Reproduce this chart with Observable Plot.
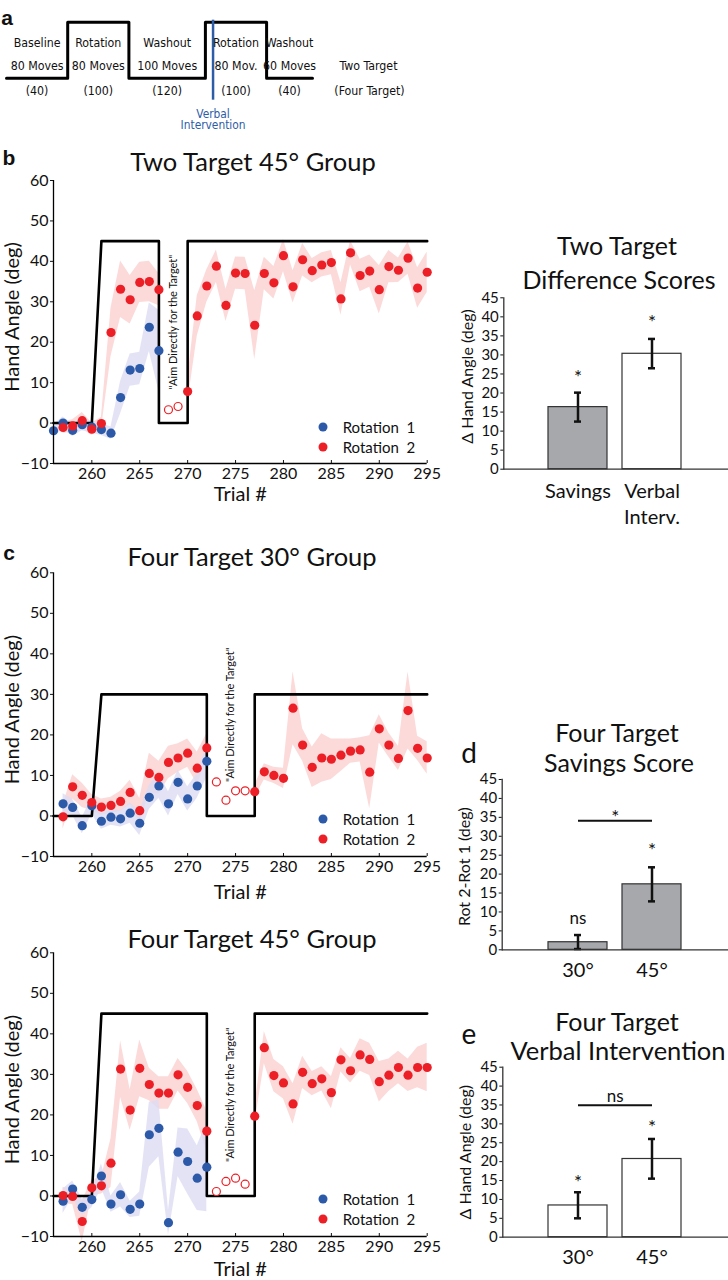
<!DOCTYPE html>
<html><head><meta charset="utf-8">
<script src="https://cdn.jsdelivr.net/npm/d3@7"></script>
<script src="https://cdn.jsdelivr.net/npm/@observablehq/plot@0.6"></script>
<style>
body{margin:0;background:#fff;}
#page{position:relative;width:728px;height:1280px;overflow:hidden;font-family:Lato,"Open Sans",sans-serif;color:#111;background:#fff;}
.slot{position:absolute;}
.c{position:absolute;transform:translate(-50%,-50%);white-space:nowrap;line-height:1;}
.letter{font-family:"Liberation Sans",Arial,sans-serif;font-weight:bold;font-size:21px;}
.leg{position:absolute;font-size:15px;white-space:pre;line-height:1;transform:translateY(-50%);}
.dotc{position:absolute;width:9px;height:9px;border-radius:50%;transform:translate(-50%,-50%);}
</style></head><body><div id="page"></div>
<script>
// ---------- Panel a: schedule ----------
const phaseNames = ["Baseline", "Rotation", "Washout", "Rotation", "Washout"];
const phaseMovesTwo = [80, 80, 100, 80, 60];
const phaseLabelsTwo = ["80 Moves", "80 Moves", "100 Moves", "80 Mov.", "60 Moves"];
const phaseLabelsFour = ["(40)", "(100)", "(120)", "(100)", "(40)"];
const phaseRotated = [0, 1, 0, 1, 0];
const verbalMove = 270;

// ---------- Panel b: Two Target 45° ----------
const b_rot1Start = 256;
const b_rot1 = [-1.9, 0, -1.8, -0.4, -1, -1.6, -2.5, 6.3, 13.1, 13.5, 23.7, 17.9];
const b_rot1Se = [1.5, 1.5, 1.5, 1.5, 1.5, 1.5, 1.5, 4, 4, 4, 6, 10];
const b_rot2aStart = 257;
const b_rot2a = [-1.1, -0.7, 0.6, -1.5, -0.1, 22.4, 33.1, 30.5, 34.8, 35, 33];
const b_rot2aSe = [1.5, 1.5, 2, 1.5, 1.5, 6, 7, 6, 5, 5, 4];
const b_openStart = 268;
const b_open = [3.3, 4.1];
const b_rot2bStart = 270;
const b_rot2b = [7.8, 26.5, 33.9, 38.8, 29.1, 37.1, 37, 24.2, 37, 34.7, 41.4, 33.7, 40.4, 37.7, 39.1, 39.7, 30.7, 42.1, 36.5, 37.6, 33, 38.7, 37.8, 40.8, 33.4, 37.3];
const b_rot2bSe = [3, 5, 4, 4, 4, 4, 4, 8.5, 4, 4, 4, 4, 4, 3, 3, 3, 4, 3, 4, 4, 6, 4, 3, 4, 5, 5];
const b_schedX = [256, 260, 261, 267, 267, 270, 270, 295];
const b_schedY = [0, 0, 45, 45, 0, 0, 45, 45];

// ---------- Panel c: Four Target 30° ----------
const c_rot1Start = 257;
const c_rot1 = [3.0, 2.1, -2.4, 2.5, -1.3, -0.3, -0.7, 0.7, -1.8, 4.6, 7.4, 3.0, 8.3, 4.2, 7.4, 13.5];
const c_rot1Se = [2.5, 2, 2, 2, 2, 2, 2, 2.5, 3, 3, 3, 3, 3, 3, 3, 4];
const c_rot2aStart = 257;
const c_rot2a = [-0.2, 7.2, 5.1, 3.3, 2.2, 2.6, 3.6, 5.8, 1.3, 10.5, 9.5, 13.2, 14.3, 15.5, 11.8, 16.8];
const c_rot2aSe = [3, 3, 3, 2, 2, 2, 2.5, 3, 3, 5, 4, 4, 3.5, 3.5, 4, 3.5];
const c_openStart = 273;
const c_open = [8.4, 3.9, 6.2, 6.2];
const c_rot2bStart = 277;
const c_rot2b = [6.0, 10.9, 10, 9.3, 26.6, 17.5, 12.0, 14.3, 14, 15, 16, 16.3, 10.8, 21.5, 17.5, 14.2, 26, 16.7, 14.3];
const c_rot2bSe = [1.5, 2, 2, 2.5, 9, 4, 5, 6, 5, 4, 3, 3, 9, 3.5, 3, 3, 9.5, 3, 4];
const c_schedX = [256, 260, 261, 272, 272, 277, 277, 295];
const c_schedY = [0, 0, 30, 30, 0, 0, 30, 30];

// ---------- Panel c (lower): Four Target 45° ----------
const f_rot1Start = 257;
const f_rot1 = [-1.3, 1.7, -2.8, -0.9, 4.9, -2.0, 0.3, -3.3, -2.0, 15.1, 16.7, -6.6, 10.8, 8.5, 4.4, 7.1];
const f_rot1Se = [3, 2, 2, 2, 3, 2, 3, 2, 3, 8, 7, 3, 6, 8, 8, 11];
const f_rot2aStart = 257;
const f_rot2a = [0.1, -0.1, -6.3, 2.0, 2.5, 8.1, 31.3, 21.2, 31.5, 27.5, 25.4, 25.4, 29.9, 26.8, 22.3, 16];
const f_rot2aSe = [2, 2, 5, 2, 2, 6, 7, 5, 7, 4, 4, 4, 4, 4, 4, 5];
const f_openStart = 273;
const f_open = [1.1, 3.6, 4.4, 2.9];
const f_rot2bStart = 277;
const f_rot2b = [19.7, 36.6, 29.7, 27.9, 22.7, 30.5, 27.7, 28.9, 25.5, 33.6, 30.9, 34.8, 33.7, 28.2, 29.8, 31.7, 29.8, 31.7, 31.7];
const f_rot2bSe = [2, 4, 4, 4, 5, 4, 3, 3, 4, 3, 3, 4, 4, 5, 4, 4, 4, 5, 6];
const f_schedX = [256, 260, 261, 272, 272, 277, 277, 295];
const f_schedY = [0, 0, 45, 45, 0, 0, 45, 45];

const trialTicks = [260, 265, 270, 275, 280, 285, 290, 295];
const angleTicks = [-10, 0, 10, 20, 30, 40, 50, 60];

// ---------- Bar panels ----------
const diffCats = ["Savings", "Verbal\nInterv."];
const diffVals = [16.3, 30.3];
const diffLo = [12.5, 26.5];
const diffHi = [20.1, 34.2];
const diffFill = ["#a6a8ab", "#ffffff"];
const diffMarks = ["*", "*"];
const diffMarkY = [25.0, 39.5];

const degCats = ["30°", "45°"];
const savVals = [2.0, 17.3];
const savLo = [0.2, 12.8];
const savHi = [3.9, 21.8];
const savMarks = ["ns", "*"];
const savMarkY = [8.2, 27.1];
const savSigY = 34.1;
const savSigText = "*";
const savSigTextY = 35.9;

const verbVals = [8.4, 20.7];
const verbLo = [5.0, 15.5];
const verbHi = [11.9, 26.0];
const verbMarks = ["*", "*"];
const verbMarkY = [15.5, 30.0];
const verbSigY = 34.9;
const verbSigText = "ns";
const verbSigTextY = 37.1;

const barTicks = [0, 5, 10, 15, 20, 25, 30, 35, 40, 45];

// ---------- colours ----------
const RED = "#ec1f26", BLUE = "#2c5aa9", PINK = "#fcdada", LAV = "#dcdcf2", BLUEV = "#2e5da8";
const BASEFONT = "Lato, 'Open Sans', sans-serif";

const ctx = document.createElement("canvas").getContext("2d");
function hasFont(name) {
  const s = "80 Moves Intervention (Four Target)";
  ctx.font = "20px monospace";
  const w0 = ctx.measureText(s).width;
  ctx.font = `20px "${name}", monospace`;
  const w1 = ctx.measureText(s).width;
  return Math.abs(w0 - w1) > 0.5;
}
let schemFont = null;
for (const f of ["Liberation Sans Narrow", "DejaVu Sans Condensed", "Lato"]) if (!schemFont && hasFont(f)) schemFont = f;
const schemFam = schemFont ? `"${schemFont}", sans-serif` : BASEFONT;
function fitSize(text, targetWidth) {
  ctx.font = `100px ${schemFam}`;
  return Math.min(16, 100 * targetWidth / ctx.measureText(text).width);
}

const page = document.getElementById("page");
function place(node, left, top) {
  const d = document.createElement("div");
  d.className = "slot";
  d.style.left = left + "px";
  d.style.top = top + "px";
  d.appendChild(node);
  page.appendChild(d);
}
function label(text, cx, cy, size, cls, color) {
  const d = document.createElement("div");
  d.className = "c" + (cls ? " " + cls : "");
  d.style.left = cx + "px";
  d.style.top = cy + "px";
  if (size) d.style.fontSize = size + "px";
  if (color) d.style.color = color;
  d.textContent = text;
  page.appendChild(d);
}
function legend(x, y1, y2) {
  [[y1, BLUE, "Rotation  1"], [y2, RED, "Rotation  2"]].forEach(([y, col, t]) => {
    const dot = document.createElement("div");
    dot.className = "dotc";
    dot.style.left = x + "px"; dot.style.top = y + "px"; dot.style.background = col;
    page.appendChild(dot);
    const tx = document.createElement("div");
    tx.className = "leg";
    tx.style.left = (x + 20) + "px"; tx.style.top = y + "px";
    tx.textContent = t;
    page.appendChild(tx);
  });
}

// ---------- Panel a ----------
{
  let acc = 0;
  const phases = phaseNames.map((name, i) => {
    const start = acc; acc += phaseMovesTwo[i];
    return {name, start, end: acc, mid: (start + acc) / 2, two: phaseLabelsTwo[i], four: phaseLabelsFour[i], lvl: phaseRotated[i]};
  });
  const total = acc;
  const step = phases.flatMap(p => [{m: p.start, lvl: p.lvl}, {m: p.end, lvl: p.lvl}]);
  const fs = fitSize("80 Moves", 53);
  const fsV = fitSize("Intervention", 65);
  const t = {frameAnchor: "bottom", lineAnchor: "middle", textAnchor: "middle", fontSize: fs, fontFamily: schemFam, fill: "#111"};
  const svg = Plot.plot({
    width: 728, height: 140,
    marginLeft: 6, marginRight: 416, marginTop: 21.7, marginBottom: 62.3,
    x: {domain: [0, total], axis: null},
    y: {domain: [0, 1], axis: null},
    style: {background: "transparent", overflow: "visible", fontFamily: BASEFONT},
    marks: [
      Plot.line(step, {x: "m", y: "lvl", stroke: "black", strokeWidth: 3}),
      Plot.ruleX([verbalMove], {stroke: BLUEV, strokeWidth: 2.5, insetTop: -2, insetBottom: -22}),
      Plot.text(phases, {...t, x: "mid", text: "name", dy: -35}),
      Plot.text(phases, {...t, x: "mid", text: "two", dy: -11.7}),
      Plot.text(phases, {...t, x: "mid", text: "four", dy: 13}),
      Plot.text([{m: total, s: "Two Target"}], {...t, x: "m", text: "s", dx: 56, dy: -11.7}),
      Plot.text([{m: total, s: "(Four Target)"}], {...t, x: "m", text: "s", dx: 57, dy: 13}),
      Plot.text([{m: verbalMove, s: "Verbal\nIntervention"}], {...t, x: "m", text: "s", dy: 41.5, fontSize: fsV, lineHeight: 1.0, fill: BLUEV})
    ]
  });
  place(svg, 0, 0);
}

// ---------- time-course panels ----------
function timePanel(o) {
  const mk = (start, vals, se, seg) => vals.map((v, i) => ({t: start + i, v, se: se ? se[i] : 0, seg}));
  const rot1 = mk(o.rot1Start, o.rot1, o.rot1Se, 0);
  const rot2 = [...mk(o.rot2aStart, o.rot2a, o.rot2aSe, 1), ...mk(o.rot2bStart, o.rot2b, o.rot2bSe, 2)];
  const open = mk(o.openStart, o.open, null, 3);
  const sched = o.schedX.map((t, i) => ({t, v: o.schedY[i]}));
  const washMid = (o.schedX[3] + o.schedX[5]) / 2;
  return Plot.plot({
    width: 470, height: o.height,
    marginLeft: 53, marginRight: 43.3, marginTop: o.mt, marginBottom: o.mb,
    x: {domain: [256, 295]},
    y: {domain: [-10, 60]},
    style: {background: "transparent", overflow: "visible", fontFamily: BASEFONT},
    marks: [
      Plot.areaY(rot2, {x: "t", y1: d => d.v - d.se, y2: d => d.v + d.se, z: "seg", fill: PINK}),
      Plot.areaY(rot1, {x: "t", y1: d => d.v - d.se, y2: d => d.v + d.se, fill: LAV, fillOpacity: 0.8}),
      Plot.line(sched, {x: "t", y: "v", stroke: "black", strokeWidth: 2.6}),
      Plot.text([{t: washMid, s: "\"Aim Directly for the Target\""}], {x: "t", text: "s", frameAnchor: "middle", textAnchor: "middle", lineAnchor: "middle", rotate: -90, fontSize: 11, fill: "#111"}),
      Plot.dot(rot1, {x: "t", y: "v", r: 4.6, fill: BLUE}),
      Plot.dot(rot2, {x: "t", y: "v", r: 4.6, fill: RED}),
      Plot.dot(open, {x: "t", y: "v", r: 4, fill: "white", stroke: RED, strokeWidth: 1.2}),
      Plot.ruleX([256], {stroke: "black", strokeWidth: 1.3}),
      Plot.ruleY([-10], {stroke: "black", strokeWidth: 1.3}),
      Plot.axisY({ticks: angleTicks, tickSize: 3, tickPadding: 2, fontSize: 16, label: null, tickFormat: d => d < 0 ? "\u2212" + Math.abs(d) : d}),
      Plot.axisX({ticks: trialTicks, tickSize: -3, tickPadding: 7, fontSize: 16, label: null}),
      Plot.text(["Hand Angle (deg)"], {frameAnchor: "left", textAnchor: "middle", lineAnchor: "middle", rotate: -90, dx: -41, dy: -5, fontSize: 20, fill: "#111"}),
      Plot.text(["Trial #"], {frameAnchor: "bottom", textAnchor: "middle", lineAnchor: "middle", dy: o.trialDy, fontSize: 20, fill: "#111"})
    ]
  });
}

place(timePanel({rot1Start: b_rot1Start, rot1: b_rot1, rot1Se: b_rot1Se, rot2aStart: b_rot2aStart, rot2a: b_rot2a, rot2aSe: b_rot2aSe,
  openStart: b_openStart, open: b_open, rot2bStart: b_rot2bStart, rot2b: b_rot2b, rot2bSe: b_rot2bSe,
  schedX: b_schedX, schedY: b_schedY, height: 340, mt: 20, mb: 37, trialDy: 31.5}), 0, 160);
place(timePanel({rot1Start: c_rot1Start, rot1: c_rot1, rot1Se: c_rot1Se, rot2aStart: c_rot2aStart, rot2a: c_rot2a, rot2aSe: c_rot2aSe,
  openStart: c_openStart, open: c_open, rot2bStart: c_rot2bStart, rot2b: c_rot2b, rot2bSe: c_rot2bSe,
  schedX: c_schedX, schedY: c_schedY, height: 350, mt: 20.3, mb: 46, trialDy: 36}), 0, 552);
place(timePanel({rot1Start: f_rot1Start, rot1: f_rot1, rot1Se: f_rot1Se, rot2aStart: f_rot2aStart, rot2a: f_rot2a, rot2aSe: f_rot2aSe,
  openStart: f_openStart, open: f_open, rot2bStart: f_rot2bStart, rot2b: f_rot2b, rot2bSe: f_rot2bSe,
  schedX: f_schedX, schedY: f_schedY, height: 348, mt: 20.3, mb: 44, trialDy: 33}), 0, 932);

// ---------- bar panels ----------
function barPanel(o) {
  const data = o.cats.map((cat, i) => ({cat, v: o.vals[i], lo: o.lo[i], hi: o.hi[i], fill: o.fills[i], m: o.marks[i], my: o.markY[i]}));
  const marks = [
    Plot.barY(data, {x: "cat", y: "v", fill: "fill", stroke: "#333", strokeWidth: 1.2}),
    Plot.ruleX(data, {x: "cat", y1: "lo", y2: "hi", stroke: "#111", strokeWidth: 2.5}),
    Plot.tickY(data, {x: "cat", y: "lo", insetLeft: 26, insetRight: 26, stroke: "#111", strokeWidth: 2.5}),
    Plot.tickY(data, {x: "cat", y: "hi", insetLeft: 26, insetRight: 26, stroke: "#111", strokeWidth: 2.5}),
    Plot.text(data.filter(d => d.m === "*"), {x: "cat", y: "my", text: "m", fontSize: 19, dy: 4, fill: "#111"}),
    Plot.text(data.filter(d => d.m !== "*"), {x: "cat", y: "my", text: "m", fontSize: 17, fill: "#111"}),
    Plot.ruleY([0], {stroke: "#333", strokeWidth: 1.3}),
    Plot.frame({anchor: "left", stroke: "#333", strokeWidth: 1.3}),
    Plot.axisY({ticks: barTicks, tickSize: 3, tickPadding: 2, fontSize: 15, label: null}),
    Plot.axisX({tickSize: 0, tickPadding: o.xPad, fontSize: 20, lineHeight: 1.28, label: null}),
    Plot.text([o.ylabel], {frameAnchor: "left", textAnchor: "middle", lineAnchor: "middle", rotate: -90, dx: o.ylabelDx, dy: o.ylabelDy, fontSize: 16, fill: "#111"})
  ];
  if (o.sigY != null) {
    marks.push(Plot.link([{a: o.cats[0], b: o.cats[1], y: o.sigY}], {x1: "a", x2: "b", y1: "y", y2: "y", stroke: "#111", strokeWidth: 2}));
    marks.push(Plot.text([{a: o.cats[0], y: o.sigTextY, t: o.sigText}], {x: "a", y: "y", text: "t", dx: 37.2, dy: o.sigText === "*" ? 4 : 0, fontSize: o.sigText === "*" ? 19 : 17, fill: "#111"}));
  }
  return Plot.plot({
    width: 288, height: o.height,
    marginLeft: o.ml, marginRight: 0, marginTop: o.mt, marginBottom: o.mb,
    x: {domain: o.cats, range: [107.5, 241.5], paddingInner: 0.2, paddingOuter: 0},
    y: {domain: [0, 45]},
    style: {background: "transparent", overflow: "visible", fontFamily: BASEFONT},
    marks
  });
}

place(barPanel({cats: diffCats, vals: diffVals, lo: diffLo, hi: diffHi, fills: diffFill, marks: diffMarks, markY: diffMarkY,
  ylabel: "\u0394 Hand Angle (deg)", ylabelDx: -36, ylabelDy: -7, xPad: 11,
  height: 260, ml: 63.3, mt: 17.3, mb: 71.3}), 440, 280);
place(barPanel({cats: degCats, vals: savVals, lo: savLo, hi: savHi, fills: ["#a6a8ab", "#a6a8ab"], marks: savMarks, markY: savMarkY,
  sigY: savSigY, sigText: savSigText, sigTextY: savSigTextY,
  ylabel: "Rot 2-Rot 1 (deg)", ylabelDx: -37, ylabelDy: 2, xPad: 9,
  height: 220, ml: 61.7, mt: 19, mb: 30.7}), 440, 760);
place(barPanel({cats: degCats, vals: verbVals, lo: verbLo, hi: verbHi, fills: ["#ffffff", "#ffffff"], marks: verbMarks, markY: verbMarkY,
  sigY: verbSigY, sigText: verbSigText, sigTextY: verbSigTextY,
  ylabel: "\u0394 Hand Angle (deg)", ylabelDx: -37, ylabelDy: 0, xPad: 9,
  height: 230, ml: 62.3, mt: 16.7, mb: 43.3}), 440, 1050);

// ---------- titles, letters, legends ----------
label("a", 7, 17, null, "letter");
label("b", 9, 157, null, "letter");
label("c", 9, 552, null, "letter");
label("d", 469, 752, 28);
label("e", 469, 1033, 28);

label("Two Target 45\u00b0 Group", 253, 162, 25.5);
label("Four Target 30\u00b0 Group", 252, 557, 25.5);
label("Four Target 45\u00b0 Group", 252, 939, 25.5);
label("Two Target", 617, 245, 25);
label("Difference Scores", 619, 279, 25);
label("Four Target", 617, 732, 25);
label("Savings Score", 619, 762, 25);
label("Four Target", 617, 1021, 25);
label("Verbal Intervention", 618, 1051, 25.5);

legend(322.7, 426.7, 446.5);
legend(322.7, 819.3, 839.3);
legend(322.7, 1199.3, 1219.3);
</script></body></html>
